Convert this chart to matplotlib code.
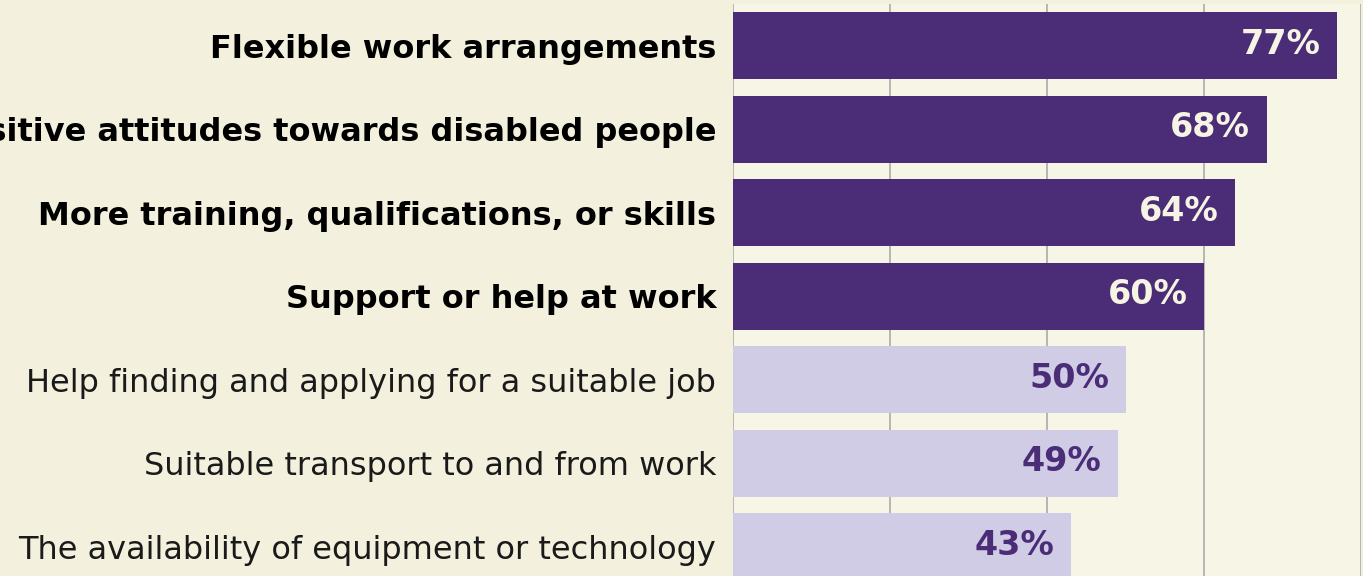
import matplotlib.pyplot as plt

labels = [
    "Flexible work arrangements",
    "Positive attitudes towards disabled people",
    "More training, qualifications, or skills",
    "Support or help at work",
    "Help finding and applying for a suitable job",
    "Suitable transport to and from work",
    "The availability of equipment or technology",
]
values = [77, 68, 64, 60, 50, 49, 43]
highlight = [True, True, True, True, False, False, False]

dark = "#4b2c77"
light = "#d0cce6"
cream = "#f6f4e3"

fig = plt.figure(figsize=(13.63, 5.76), dpi=100, facecolor="#f3f1dd")
ax = fig.add_axes([733 / 1363, 1 - 4 / 576 - 7 * 83.5 / 576, 628 / 1363, 7 * 83.5 / 576])
ax.set_facecolor("#f6f5e6")

ypos = list(range(len(values)))
colors = [dark if h else light for h in highlight]
ax.barh(ypos, values, height=0.8, color=colors, zorder=2)

ax.set_xlim(0, 80)
ax.set_ylim(6.5, -0.5)
ax.set_xticks([0, 20, 40, 60, 80])
ax.xaxis.grid(True, color="#b0b0b0", linewidth=1.3, zorder=0)
ax.set_axisbelow(True)
ax.tick_params(axis="x", length=0, labelbottom=False)
ax.tick_params(axis="y", length=0, pad=12)
for s in ax.spines.values():
    s.set_visible(False)

ax.set_yticks(ypos)
ax.set_yticklabels(labels, fontsize=23)
for tl, h in zip(ax.get_yticklabels(), highlight):
    tl.set_fontweight("bold" if h else "normal")
    tl.set_color("black" if h else "#1a1a1a")

for y, v, h in zip(ypos, values, highlight):
    ax.annotate(f"{v}%", xy=(v, y), xytext=(-12, 1), textcoords="offset points",
                ha="right", va="center", fontsize=24, fontweight="bold",
                color=cream if h else dark, zorder=3)

fig.savefig("out.png", dpi=100, facecolor=fig.get_facecolor())
